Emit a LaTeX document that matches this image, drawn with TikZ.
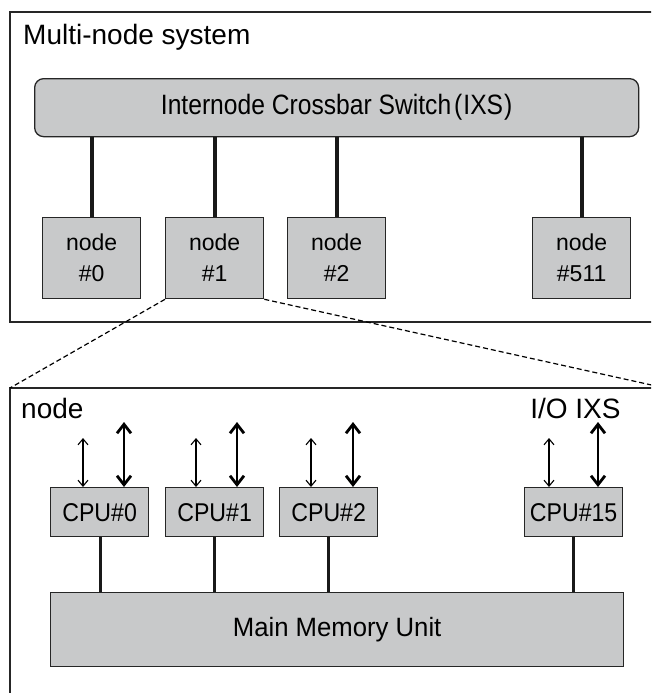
\documentclass[tikz,border=0pt]{standalone}
\usepackage{fontspec}
\setmainfont{Liberation Sans}
\newfontfamily\narrowA[FakeStretch=0.88]{Liberation Sans}
\newfontfamily\narrowB[FakeStretch=0.9]{Liberation Sans}
\newfontfamily\narrowC[FakeStretch=0.97]{Liberation Sans}
\usetikzlibrary{arrows.meta}
\definecolor{boxgray}{HTML}{C8C9CA}
\begin{document}
\begin{tikzpicture}[x=1pt,y=-1pt,
  frame/.style={draw=black!85,line width=1.3pt},
  graybox/.style={draw=black!85,fill=boxgray,line width=1.3pt,inner sep=0pt,anchor=north west},
  nodebox/.style={graybox,minimum width=98pt,minimum height=81pt,font=\fontsize{23}{31}\selectfont,align=center},
  cpubox/.style={graybox,minimum width=98pt,minimum height=49pt,font=\narrowB\fontsize{25.7}{30}\selectfont},
  biglink/.style={line width=4pt,black!90},
  memlink/.style={line width=3pt,black!90},
  thinarrow/.style={line width=1.1pt,{Straight Barb[length=6pt,width=10pt]}-{Straight Barb[length=6pt,width=10pt]}},
  thickarrow/.style={line width=2.8pt,{Straight Barb[length=9pt,width=14pt]}-{Straight Barb[length=9pt,width=14pt]}},
  zoomline/.style={dash pattern=on 5pt off 3pt,line width=1.2pt},
  lbl/.style={anchor=base west,inner sep=0pt,font=\fontsize{28}{32}\selectfont}
]
\useasboundingbox (0,0) rectangle (651,693);
\begin{scope}
\clip (0,0) rectangle (651,693);
% upper frame (open to the right)
\draw[frame] (680,12) -- (10,12) -- (10,322) -- (680,322);
\node[lbl] (title) at (23,45) {Multi-node system};
% crossbar
\node[draw=black!85,fill=boxgray,line width=1.3pt,rounded corners=9pt,minimum width=604pt,minimum height=58pt,inner sep=0pt,anchor=north west,font=\narrowA\fontsize{28}{32}\selectfont] (ixs) at (34,78) {Internode Crossbar Switch\kern3pt(\kern1pt IXS\kern1pt)};
% nodes
\node[nodebox] (n0) at (42,217) {node\\\#0};
\node[nodebox] (n1) at (165,217) {node\\\#1};
\node[nodebox] (n2) at (287,217) {node\\\#2};
\node[nodebox] (n511) at (532,217) {node\\\#511};
\foreach \n in {n0,n1,n2,n511}{
  \draw[biglink] (ixs.south -| \n.north) -- (\n.north);
}
% lower frame
\draw[frame] (680,388) -- (10,388) -- (10,700);
\coordinate (zl) at (10,388);
\coordinate (zr) at (665,388);
\draw[zoomline] (n1.south west) -- (zl);
\draw[zoomline] (n1.south east) -- (zr);
\node[lbl] (nodelbl) at (21,418) {node};
% CPUs
\node[cpubox] (c0) at (50,487) {CPU\#0};
\node[cpubox] (c1) at (165,487) {CPU\#1};
\node[cpubox] (c2) at (279,487) {CPU\#2};
\node[cpubox] (c15) at (524,487) {CPU\#15};
% memory
\node[graybox,minimum width=573pt,minimum height=74pt,font=\narrowC\fontsize{26.5}{30}\selectfont] (mem) at (50,592) {Main Memory Unit};
\foreach \c/\dx in {c0/100,c1/214,c2/328,c15/573}{
  \draw[memlink] (\c.south -| \dx,0) -- (mem.north -| \dx,0);
}
% arrows
\foreach \c/\a/\b in {c0/83/124,c1/196/237,c2/311/353,c15/549/598}{
  \coordinate (t\c) at (\a,438);
  \coordinate (T\c) at (\b,422);
  \draw[thinarrow] (t\c) -- (\c.north -| t\c);
  \draw[thickarrow] (T\c) -- (\c.north -| T\c);
}
\node[anchor=base,inner sep=0pt,font=\fontsize{28}{32}\selectfont] (io) at (549,418) {I/O};
\node[anchor=base,inner sep=0pt,font=\fontsize{28}{32}\selectfont] (ixslbl) at (598,418) {IXS};
\end{scope}
\end{tikzpicture}
\end{document}
